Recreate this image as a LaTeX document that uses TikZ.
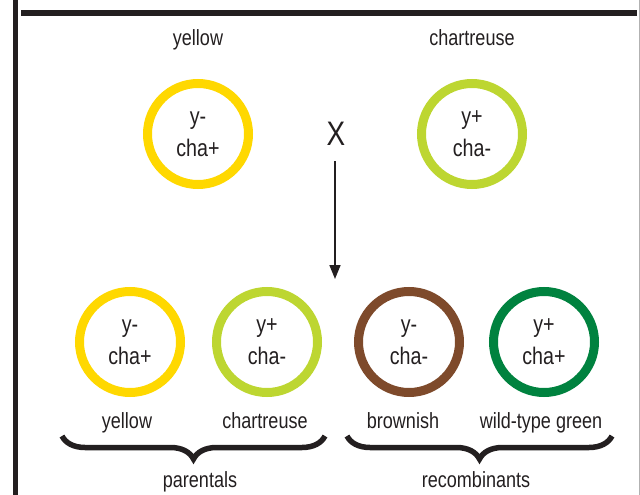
\documentclass[tikz,border=0pt]{standalone}
\usepackage{fontspec}
\newfontfamily\cf[FakeStretch=0.82]{Liberation Sans}
\usetikzlibrary{arrows.meta,decorations.pathreplacing}
\definecolor{ink}{HTML}{231F20}
\definecolor{cyel}{HTML}{FFD800}
\definecolor{cchar}{HTML}{BDD631}
\definecolor{cbrown}{HTML}{7E4A2B}
\definecolor{cgreen}{HTML}{00823F}
\begin{document}
\begin{tikzpicture}[x=1pt,y=-1pt,
  ring/.style={circle,draw=#1,line width=9pt,minimum size=101pt,inner sep=0pt,align=center,font=\cf\fontsize{24}{32}\selectfont,text=ink},
  lbl/.style={font=\cf\fontsize{22}{26}\selectfont,text=ink,anchor=base,inner sep=0pt},
  brc/.style={decorate,decoration={brace,mirror,amplitude=23pt},line width=5.5pt,draw=ink},
  frame/.style={draw=ink,line width=5pt}]
\useasboundingbox (0,0) rectangle (640,495);
% frame
\draw[frame] (15.5,0) -- (15.5,495);
\draw[frame,line width=5.4pt] (21,13) -- (637,13);
\draw[gray!60,line width=1pt] (639,0) -- (639,495);
% parents
\node[lbl] (tl1) at (198,46) {yellow};
\node[lbl] (tl2) at (472,46) {chartreuse};
\node[ring=cyel] (p1) at (198,134) {y-\\cha+};
\node[ring=cchar] (p2) at (472,134) {y+\\cha-};
\node[font=\cf\fontsize{34}{36}\selectfont,text=ink,inner sep=0pt] (cross) at (336,134) {X};
\coordinate (a1) at (335,161);
\coordinate (a2) at (335,279);
\draw[-{Triangle[length=14pt,width=11pt]},line width=1.6pt,ink] (a1) -- (a2);
% offspring
\node[ring=cyel] (o1) at (130,342) {y-\\cha+};
\node[ring=cchar] (o2) at (267,342) {y+\\cha-};
\node[ring=cbrown] (o3) at (409,342) {y-\\cha-};
\node[ring=cgreen] (o4) at (544,342) {y+\\cha+};
\node[lbl] (bl1) at (127,428) {yellow};
\node[lbl] (bl2) at (265,428) {chartreuse};
\node[lbl] (bl3) at (403,428) {brownish};
\node[lbl] (bl4) at (541,428) {wild-type green};
% braces
\coordinate (b1s) at (62,436);
\coordinate (b1e) at (325,436);
\coordinate (b2s) at (347,436);
\coordinate (b2e) at (612,436);
\draw[brc] (b1s) -- (b1e);
\draw[brc] (b2s) -- (b2e);
\node[lbl] (g1) at (200,487) {parentals};
\node[lbl] (g2) at (476,487) {recombinants};
\end{tikzpicture}
\end{document}
